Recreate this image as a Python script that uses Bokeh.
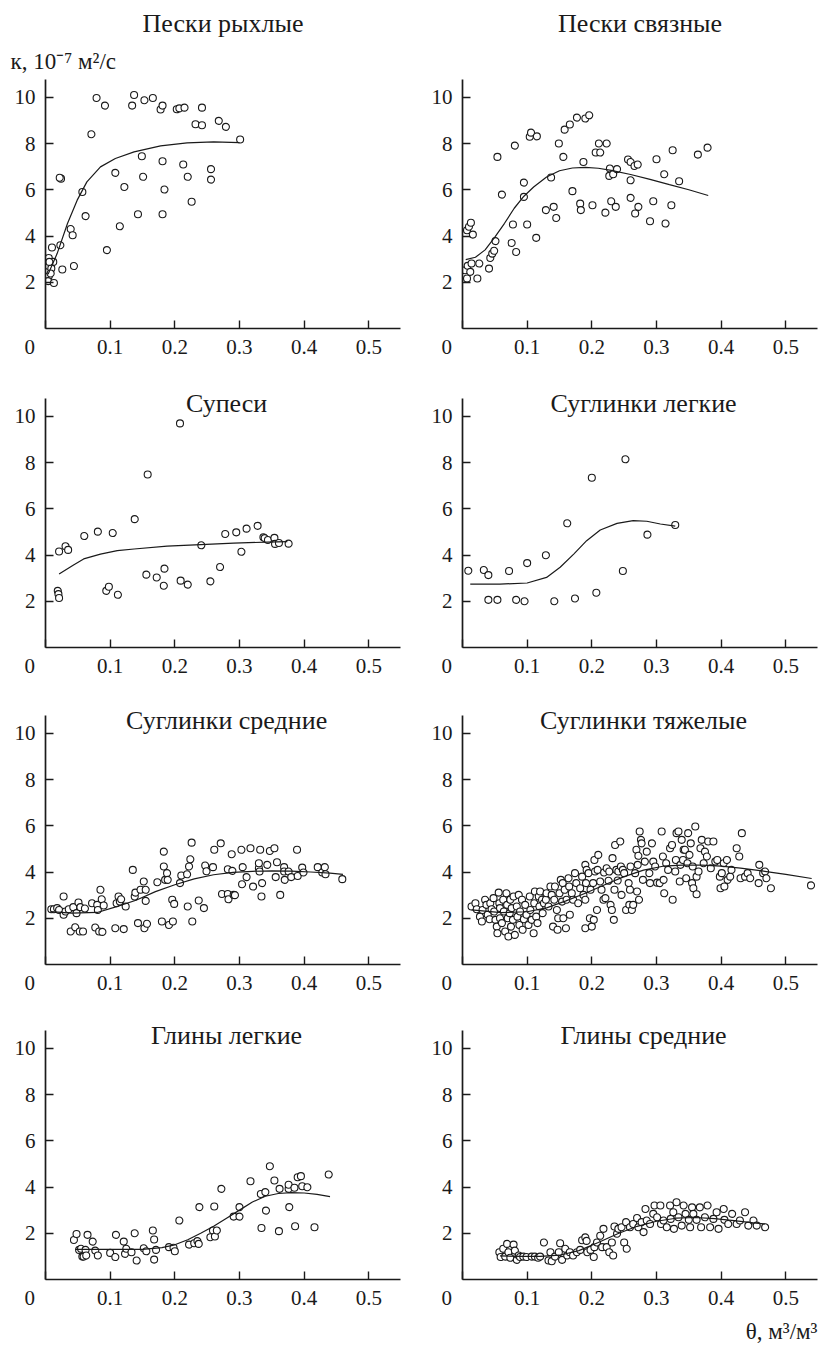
from bokeh.plotting import figure
from bokeh.layouts import column, row
from bokeh.models import Range1d, FixedTicker, Label, Title
from bokeh.embed import file_html
from bokeh.resources import INLINE

FONT = "Liberation Serif"

titles = ["Пески рыхлые", "Пески связные", "Супеси", "Суглинки легкие",
          "Суглинки средние", "Суглинки тяжелые", "Глины легкие", "Глины средние"]
y_label = "к, 10⁻⁷ м²/с"
x_label = "θ, м³/м³"
x_ticks = [0, 0.1, 0.2, 0.3, 0.4, 0.5]
y_ticks = [2, 4, 6, 8, 10]

# Пески рыхлые
p1_x = [0.005, 0.005, 0.005, 0.004, 0.010, 0.012, 0.009, 0.008, 0.013, 0.006, 0.023, 0.024, 0.022, 0.026,
        0.039, 0.042, 0.044, 0.057, 0.062, 0.071, 0.079, 0.092, 0.095, 0.108, 0.115, 0.122, 0.134, 0.137,
        0.143, 0.149, 0.151, 0.153, 0.166, 0.178, 0.181, 0.181, 0.181, 0.184, 0.203, 0.207, 0.215, 0.213,
        0.220, 0.226, 0.232, 0.242, 0.242, 0.256, 0.256, 0.268, 0.279, 0.301]
p1_y = [3.05, 2.70, 2.26, 2.05, 3.50, 2.88, 2.60, 2.38, 1.97, 2.88, 3.60, 6.48, 6.52, 2.55,
        4.30, 4.03, 2.70, 5.90, 4.86, 8.40, 9.97, 9.64, 3.39, 6.73, 4.42, 6.12, 9.64, 10.1,
        4.94, 7.45, 6.56, 9.87, 9.97, 9.47, 9.64, 7.23, 4.94, 6.01, 9.48, 9.52, 9.55, 7.09,
        6.56, 5.48, 8.83, 9.55, 8.79, 6.89, 6.44, 8.98, 8.72, 8.17]
c1_x = [0.004, 0.018, 0.034, 0.049, 0.064, 0.085, 0.108, 0.137, 0.178, 0.219, 0.260, 0.300]
c1_y = [2.35, 3.24, 4.54, 5.55, 6.34, 6.99, 7.35, 7.64, 7.90, 8.03, 8.07, 8.04]

# Пески связные
p2_x = [0.004, 0.007, 0.008, 0.012, 0.014, 0.026, 0.023, 0.007, 0.010, 0.013, 0.016, 0.041, 0.043, 0.046,
        0.049, 0.051, 0.054, 0.061, 0.076, 0.078, 0.081, 0.083, 0.095, 0.095, 0.100, 0.104, 0.106, 0.115,
        0.114, 0.129, 0.137, 0.141, 0.145, 0.149, 0.156, 0.158, 0.166, 0.170, 0.177, 0.182, 0.183, 0.187,
        0.190, 0.196, 0.201, 0.206, 0.211, 0.213, 0.221, 0.223, 0.228, 0.227, 0.230, 0.233, 0.237, 0.239,
        0.256, 0.260, 0.260, 0.260, 0.266, 0.267, 0.271, 0.272, 0.290, 0.295, 0.300, 0.312, 0.314, 0.323,
        0.325, 0.335, 0.364, 0.379]
p2_y = [2.52, 2.16, 2.71, 2.45, 2.81, 2.81, 2.16, 4.25, 4.40, 4.57, 4.06, 2.59, 3.05, 3.24,
        3.36, 3.78, 7.42, 5.79, 3.70, 4.50, 7.91, 3.31, 6.31, 5.69, 4.50, 8.29, 8.47, 8.31,
        3.92, 5.12, 6.53, 5.26, 4.78, 8.00, 7.42, 8.60, 8.82, 5.94, 9.12, 5.40, 5.12, 7.20,
        9.08, 9.22, 5.33, 7.61, 8.00, 7.61, 5.01, 8.00, 6.92, 6.60, 5.50, 6.67, 5.26, 6.89,
        7.31, 7.20, 6.41, 5.65, 7.03, 4.97, 7.09, 5.26, 4.64, 5.50, 7.32, 6.67, 4.54, 5.33,
        7.71, 6.37, 7.52, 7.82]
c2_x = [0.005, 0.020, 0.035, 0.050, 0.065, 0.080, 0.095, 0.110, 0.130, 0.150, 0.170, 0.190, 0.210, 0.230,
        0.260, 0.290, 0.320, 0.350, 0.380]
c2_y = [2.98, 3.08, 3.40, 3.95, 4.55, 5.20, 5.72, 6.12, 6.55, 6.82, 6.94, 6.97, 6.93, 6.84,
        6.66, 6.45, 6.22, 6.00, 5.75]

# Супеси
p3_x = [0.019, 0.020, 0.021, 0.021, 0.031, 0.035, 0.060, 0.081, 0.094, 0.098, 0.104, 0.112, 0.138, 0.156,
        0.158, 0.172, 0.183, 0.184, 0.208, 0.209, 0.220, 0.241, 0.255, 0.270, 0.278, 0.295, 0.303, 0.311,
        0.328, 0.337, 0.339, 0.344, 0.354, 0.355, 0.361, 0.376]
p3_y = [2.45, 2.31, 2.14, 4.15, 4.38, 4.22, 4.82, 5.01, 2.45, 2.63, 4.95, 2.28, 5.55, 3.15,
        7.48, 3.03, 2.67, 3.41, 9.69, 2.89, 2.72, 4.42, 2.86, 3.48, 4.91, 4.98, 4.14, 5.14,
        5.26, 4.77, 4.73, 4.65, 4.74, 4.48, 4.52, 4.49]
c3_x = [0.021, 0.044, 0.059, 0.085, 0.111, 0.137, 0.188, 0.240, 0.291, 0.343, 0.374]
c3_y = [3.18, 3.58, 3.83, 4.04, 4.19, 4.26, 4.38, 4.45, 4.51, 4.56, 4.58]

# Суглинки легкие
p4_x = [0.009, 0.033, 0.040, 0.040, 0.054, 0.072, 0.083, 0.096, 0.100, 0.129, 0.142, 0.162, 0.174, 0.200,
        0.207, 0.248, 0.252, 0.286, 0.329]
p4_y = [3.32, 3.35, 3.13, 2.06, 2.06, 3.31, 2.06, 2.00, 3.65, 3.99, 2.00, 5.37, 2.12, 7.34,
        2.37, 3.31, 8.14, 4.88, 5.30]
c4_x = [0.012, 0.058, 0.100, 0.130, 0.151, 0.172, 0.192, 0.213, 0.239, 0.264, 0.285, 0.306, 0.329]
c4_y = [2.74, 2.74, 2.79, 3.03, 3.47, 4.04, 4.62, 5.08, 5.37, 5.49, 5.46, 5.34, 5.25]

# Суглинки средние
p5_x = [0.009, 0.013, 0.018, 0.021, 0.028, 0.028, 0.031, 0.036, 0.039, 0.043, 0.046, 0.048, 0.051, 0.053,
        0.054, 0.058, 0.061, 0.072, 0.077, 0.080, 0.081, 0.083, 0.085, 0.087, 0.088, 0.090, 0.108, 0.110,
        0.113, 0.115, 0.117, 0.121, 0.124, 0.135, 0.138, 0.139, 0.143, 0.147, 0.152, 0.153, 0.155, 0.155,
        0.157, 0.173, 0.180, 0.183, 0.183, 0.185, 0.188, 0.189, 0.191, 0.196, 0.197, 0.199, 0.208, 0.210,
        0.219, 0.220, 0.222, 0.224, 0.226, 0.227, 0.237, 0.245, 0.247, 0.249, 0.259, 0.261, 0.271, 0.273,
        0.282, 0.282, 0.283, 0.288, 0.289, 0.291, 0.293, 0.303, 0.304, 0.305, 0.311, 0.317, 0.321, 0.330,
        0.330, 0.331, 0.332, 0.334, 0.335, 0.343, 0.347, 0.354, 0.356, 0.358, 0.363, 0.369, 0.369, 0.370,
        0.376, 0.380, 0.389, 0.390, 0.397, 0.399, 0.421, 0.428, 0.432, 0.433, 0.459]
p5_y = [2.39, 2.39, 2.44, 2.36, 2.94, 2.15, 2.29, 2.39, 1.43, 2.48, 1.61, 2.22, 2.68, 1.43,
        2.48, 1.43, 2.42, 2.65, 1.60, 2.58, 2.36, 1.43, 3.23, 2.82, 1.41, 2.55, 1.57, 2.65,
        2.94, 2.72, 2.82, 1.53, 2.51, 4.09, 2.94, 3.11, 1.79, 3.23, 3.59, 1.57, 3.23, 2.75,
        1.76, 3.56, 1.86, 4.88, 4.24, 3.66, 3.95, 3.66, 1.71, 2.80, 1.86, 2.62, 3.52, 3.85,
        3.90, 2.51, 4.24, 4.55, 5.27, 1.86, 2.77, 2.44, 4.28, 4.03, 4.21, 4.96, 5.24, 3.05,
        3.05, 4.12, 2.82, 4.77, 4.05, 3.01, 3.00, 4.96, 3.47, 4.21, 3.78, 5.03, 3.37, 4.16,
        4.38, 4.02, 4.96, 2.94, 3.52, 4.31, 4.91, 5.03, 3.78, 4.42, 3.01, 4.21, 4.02, 3.66,
        4.02, 3.78, 4.96, 3.83, 4.19, 3.98, 4.21, 3.98, 4.21, 3.90, 3.69]
c5_x = [0.008, 0.040, 0.080, 0.110, 0.140, 0.170, 0.200, 0.230, 0.260, 0.290, 0.320, 0.350, 0.380, 0.410,
        0.440, 0.460]
c5_y = [2.29, 2.22, 2.25, 2.50, 2.78, 3.15, 3.45, 3.70, 3.88, 3.98, 4.03, 4.05, 4.04, 4.00,
        3.95, 3.90]

# Суглинки тяжелые
p6_x = [0.014, 0.020, 0.022, 0.027, 0.030, 0.031, 0.035, 0.037, 0.039, 0.042, 0.043, 0.045, 0.048, 0.049,
        0.051, 0.053, 0.054, 0.056, 0.057, 0.058, 0.058, 0.061, 0.063, 0.064, 0.066, 0.068, 0.069, 0.070,
        0.071, 0.073, 0.074, 0.075, 0.076, 0.078, 0.079, 0.081, 0.084, 0.085, 0.087, 0.088, 0.089, 0.092,
        0.093, 0.095, 0.097, 0.099, 0.102, 0.104, 0.105, 0.107, 0.110, 0.111, 0.112, 0.114, 0.116, 0.118,
        0.119, 0.120, 0.123, 0.124, 0.126, 0.129, 0.130, 0.133, 0.136, 0.138, 0.140, 0.142, 0.143, 0.146,
        0.147, 0.148, 0.150, 0.152, 0.154, 0.155, 0.156, 0.158, 0.160, 0.161, 0.164, 0.165, 0.166, 0.169,
        0.171, 0.174, 0.176, 0.179, 0.182, 0.185, 0.187, 0.190, 0.190, 0.190, 0.191, 0.192, 0.195, 0.197,
        0.198, 0.200, 0.202, 0.203, 0.204, 0.205, 0.208, 0.209, 0.210, 0.213, 0.215, 0.218, 0.219, 0.221,
        0.223, 0.226, 0.227, 0.229, 0.231, 0.232, 0.234, 0.235, 0.236, 0.238, 0.240, 0.241, 0.244, 0.245,
        0.246, 0.248, 0.250, 0.253, 0.257, 0.258, 0.259, 0.260, 0.262, 0.264, 0.267, 0.269, 0.270, 0.271,
        0.272, 0.273, 0.274, 0.276, 0.277, 0.279, 0.282, 0.285, 0.289, 0.290, 0.293, 0.295, 0.298, 0.301,
        0.305, 0.308, 0.310, 0.311, 0.312, 0.315, 0.318, 0.321, 0.324, 0.325, 0.329, 0.330, 0.331, 0.334,
        0.336, 0.337, 0.339, 0.341, 0.342, 0.344, 0.346, 0.348, 0.349, 0.351, 0.353, 0.355, 0.356, 0.357,
        0.360, 0.362, 0.362, 0.365, 0.368, 0.370, 0.373, 0.375, 0.378, 0.380, 0.384, 0.388, 0.391, 0.394,
        0.398, 0.399, 0.401, 0.404, 0.405, 0.409, 0.410, 0.414, 0.416, 0.424, 0.428, 0.430, 0.432, 0.437,
        0.441, 0.445, 0.458, 0.459, 0.465, 0.468, 0.470, 0.477, 0.539]
p6_y = [2.51, 2.65, 2.39, 2.07, 1.86, 2.36, 2.80, 2.58, 2.15, 1.96, 2.65, 2.39, 2.87, 2.29,
        1.93, 1.64, 1.35, 3.11, 2.65, 2.44, 2.00, 1.79, 2.80, 2.29, 1.43, 3.08, 2.58, 2.00,
        1.21, 2.22, 2.80, 1.64, 2.44, 1.93, 2.94, 1.28, 2.51, 2.07, 3.01, 1.71, 2.29, 2.80,
        1.50, 1.96, 2.58, 2.15, 1.71, 2.94, 2.36, 1.93, 1.35, 2.65, 3.16, 2.07, 1.79, 2.94,
        2.51, 3.16, 2.80, 2.22, 2.65, 2.80, 3.08, 2.51, 3.37, 3.01, 1.64, 2.80, 3.37, 2.36,
        1.50, 2.00, 3.08, 3.66, 2.72, 3.52, 2.00, 3.23, 1.57, 2.80, 3.73, 3.37, 2.15, 3.08,
        2.80, 3.95, 3.52, 2.65, 3.30, 3.80, 3.01, 1.57, 2.80, 4.31, 3.52, 4.09, 3.95, 2.00,
        3.23, 1.64, 3.52, 1.93, 4.52, 4.02, 2.36, 4.09, 4.74, 3.59, 3.23, 2.80, 3.98, 2.87,
        4.16, 3.62, 4.02, 2.58, 2.36, 4.60, 1.93, 3.23, 5.17, 4.09, 3.63, 4.02, 5.32, 4.24,
        3.01, 4.09, 3.95, 2.36, 3.52, 2.58, 3.23, 4.24, 2.36, 2.58, 3.95, 4.96, 3.16, 4.31,
        4.70, 2.80, 5.75, 5.39, 5.24, 3.66, 4.45, 4.88, 3.95, 3.52, 5.24, 4.45, 4.24, 3.54,
        3.52, 5.75, 4.67, 3.66, 3.08, 4.38, 4.09, 5.03, 5.17, 2.80, 4.02, 4.52, 5.68, 5.75,
        3.59, 4.31, 5.39, 4.52, 4.96, 4.96, 3.73, 4.38, 5.68, 4.74, 5.24, 3.52, 4.24, 3.30,
        5.97, 3.80, 3.04, 4.02, 5.03, 5.39, 4.38, 4.88, 4.67, 5.32, 4.16, 5.32, 4.45, 4.52,
        3.80, 3.30, 3.95, 4.38, 3.37, 4.52, 3.66, 3.80, 4.09, 5.03, 4.67, 3.73, 5.68, 3.80,
        3.95, 3.73, 3.52, 4.31, 3.95, 4.02, 3.73, 3.30, 3.42]
c6_x = [0.014, 0.060, 0.100, 0.130, 0.160, 0.190, 0.220, 0.250, 0.280, 0.310, 0.340, 0.370, 0.400, 0.430,
        0.470, 0.500, 0.540]
c6_y = [2.36, 2.24, 2.28, 2.45, 2.75, 3.08, 3.45, 3.80, 4.08, 4.25, 4.30, 4.30, 4.25, 4.17,
        4.02, 3.90, 3.72]

# Глины легкие
p7_x = [0.044, 0.048, 0.052, 0.055, 0.057, 0.059, 0.062, 0.065, 0.063, 0.073, 0.077, 0.081, 0.100, 0.108,
        0.109, 0.121, 0.123, 0.125, 0.133, 0.138, 0.141, 0.152, 0.156, 0.166, 0.168, 0.168, 0.171, 0.191,
        0.198, 0.200, 0.207, 0.222, 0.230, 0.235, 0.237, 0.238, 0.255, 0.259, 0.262, 0.261, 0.265, 0.272,
        0.291, 0.300, 0.300, 0.317, 0.334, 0.333, 0.340, 0.341, 0.347, 0.354, 0.361, 0.362, 0.376, 0.376,
        0.377, 0.385, 0.386, 0.390, 0.395, 0.397, 0.405, 0.416, 0.438]
p7_y = [1.71, 1.97, 1.28, 1.33, 0.99, 0.99, 1.28, 1.93, 1.04, 1.64, 1.25, 1.04, 1.15, 0.97,
        1.93, 1.64, 1.11, 1.33, 1.18, 2.00, 0.82, 1.35, 1.22, 2.12, 1.73, 0.86, 1.28, 1.40,
        1.37, 1.22, 2.55, 1.51, 1.57, 1.66, 1.54, 3.13, 1.83, 2.12, 1.86, 3.16, 2.12, 3.92,
        2.72, 2.72, 3.13, 4.25, 2.23, 3.70, 3.78, 2.98, 4.90, 4.28, 2.09, 3.92, 3.92, 4.10,
        3.13, 3.97, 2.30, 4.42, 4.47, 4.03, 3.99, 2.26, 4.54]
c7_x = [0.046, 0.100, 0.150, 0.180, 0.200, 0.220, 0.240, 0.260, 0.280, 0.300, 0.320, 0.340, 0.360, 0.380,
        0.400, 0.420, 0.440]
c7_y = [1.30, 1.30, 1.30, 1.38, 1.50, 1.72, 2.00, 2.30, 2.65, 3.00, 3.35, 3.60, 3.72, 3.76,
        3.74, 3.68, 3.58]

# Глины средние
p8_x = [0.057, 0.059, 0.063, 0.066, 0.069, 0.071, 0.074, 0.079, 0.081, 0.084, 0.087, 0.089, 0.094, 0.099,
        0.107, 0.112, 0.117, 0.120, 0.126, 0.133, 0.136, 0.138, 0.143, 0.149, 0.151, 0.154, 0.159, 0.162,
        0.166, 0.171, 0.177, 0.182, 0.185, 0.190, 0.192, 0.193, 0.198, 0.203, 0.204, 0.208, 0.213, 0.216,
        0.218, 0.223, 0.227, 0.231, 0.233, 0.235, 0.239, 0.241, 0.246, 0.250, 0.253, 0.254, 0.259, 0.264,
        0.270, 0.272, 0.277, 0.280, 0.283, 0.285, 0.290, 0.295, 0.297, 0.301, 0.306, 0.307, 0.311, 0.316,
        0.321, 0.322, 0.326, 0.327, 0.331, 0.334, 0.339, 0.342, 0.345, 0.350, 0.352, 0.355, 0.357, 0.362,
        0.367, 0.369, 0.375, 0.379, 0.383, 0.388, 0.393, 0.396, 0.404, 0.405, 0.411, 0.417, 0.424, 0.429,
        0.437, 0.442, 0.450, 0.455, 0.468]
p8_y = [1.18, 0.97, 1.33, 0.99, 1.54, 1.18, 0.94, 1.51, 1.25, 0.85, 1.04, 0.97, 0.99, 0.97,
        0.99, 0.99, 0.94, 0.99, 1.60, 0.82, 1.18, 0.79, 0.99, 1.18, 1.57, 0.85, 1.33, 1.04,
        1.18, 1.04, 1.18, 1.28, 1.70, 1.82, 1.67, 1.18, 1.28, 0.97, 1.40, 1.60, 1.89, 1.40,
        2.19, 1.40, 1.18, 1.60, 1.04, 2.29, 1.98, 2.19, 2.26, 1.60, 2.48, 1.33, 2.26, 2.40,
        2.66, 2.26, 2.48, 2.05, 3.05, 2.55, 2.40, 2.84, 3.20, 2.69, 3.20, 2.40, 2.55, 2.26,
        3.20, 2.62, 2.91, 2.19, 3.34, 2.69, 2.33, 3.20, 2.84, 2.58, 2.26, 3.12, 2.84, 2.58,
        3.12, 2.26, 2.69, 3.20, 2.26, 2.62, 2.91, 2.19, 3.05, 2.58, 2.40, 2.84, 2.40, 2.55,
        2.91, 2.33, 2.55, 2.33, 2.26]
c8_x = [0.058, 0.090, 0.120, 0.150, 0.180, 0.210, 0.240, 0.270, 0.300, 0.330, 0.360, 0.390, 0.420, 0.450,
        0.468]
c8_y = [1.02, 1.00, 1.00, 1.05, 1.25, 1.60, 1.98, 2.30, 2.52, 2.65, 2.68, 2.63, 2.55, 2.45,
        2.40]

points = [(p1_x, p1_y), (p2_x, p2_y), (p3_x, p3_y), (p4_x, p4_y),
          (p5_x, p5_y), (p6_x, p6_y), (p7_x, p7_y), (p8_x, p8_y)]
curves = [(c1_x, c1_y), (c2_x, c2_y), (c3_x, c3_y), (c4_x, c4_y),
          (c5_x, c5_y), (c6_x, c6_y), (c7_x, c7_y), (c8_x, c8_y)]

PX_PER_UNIT = 23.125
X_MAX = 0.549
AXIS_TOP = 10.77
# per row: (border top, frame height, border bottom)
rows_geom = [(79, 249, 44), (11, 264, 43), (10, 264, 42), (9, 264, 67)]
title_y = [None, 10.55, 10.55, 10.53]


def title_model(text, size, standoff, align="center", offset=0):
    return Title(text=text, align=align, offset=offset, standoff=standoff,
                 text_font=FONT, text_font_size=size, text_font_style="normal",
                 text_color="#1a1a1a")


def make_panel(i):
    r, c = divmod(i, 2)
    top, fh, bottom = rows_geom[r]
    p = figure(frame_width=355, frame_height=fh,
               x_range=Range1d(0, X_MAX), y_range=Range1d(0, fh / PX_PER_UNIT),
               min_border_left=45 if c == 0 else 53,
               min_border_right=9 if c == 0 else 1,
               min_border_top=top, min_border_bottom=bottom,
               output_backend="svg", toolbar_location=None)
    p.outline_line_color = None
    p.xgrid.grid_line_color = None
    p.ygrid.grid_line_color = None
    p.background_fill_color = "white"
    p.border_fill_color = "white"
    p.xaxis.ticker = FixedTicker(ticks=x_ticks)
    p.yaxis.ticker = FixedTicker(ticks=y_ticks)
    p.xaxis.major_label_overrides = {0: "0" + "\u00a0" * 6}
    p.yaxis.bounds = (0, AXIS_TOP)
    for ax in (p.xaxis[0], p.yaxis[0]):
        ax.axis_line_width = 1.7
        ax.axis_line_color = "#1a1a1a"
        ax.major_tick_in = 8
        ax.major_tick_out = 0
        ax.major_tick_line_width = 1.4
        ax.major_tick_line_color = "#1a1a1a"
        ax.minor_tick_line_color = None
        ax.major_label_text_font = FONT
        ax.major_label_text_font_size = "21px"
        ax.major_label_text_color = "#1a1a1a"
    p.xaxis.major_label_standoff = 6
    p.yaxis.major_label_standoff = 10

    px, py = points[i]
    cx, cy = curves[i]
    p.scatter(px, py, marker="circle", size=7, fill_color="white",
              line_color="#1a1a1a", line_width=1.1)
    p.line(cx, cy, line_color="#1a1a1a", line_width=1.2)

    if r == 0:
        # first row: axis caption (left) or an equal-height spacer (right), then panel title
        first = y_label if c == 0 else "\u00a0"
        p.add_layout(title_model(first, "23px", 12, align="left", offset=-35), "above")
        p.add_layout(title_model(titles[i], "26px", 5, offset=4), "above")
    else:
        p.add_layout(Label(x=0.28, y=title_y[r], text=titles[i], text_align="center",
                           text_baseline="middle", text_font=FONT, text_font_size="26px",
                           text_color="#1a1a1a"))
    if i == 7:
        p.add_layout(title_model(x_label, "23px", 8, align="right"), "below")
    return p


figs = [make_panel(i) for i in range(8)]
layout = column(*[row(figs[2 * r], figs[2 * r + 1]) for r in range(4)])

open("out.html", "w").write(file_html(layout, INLINE))
